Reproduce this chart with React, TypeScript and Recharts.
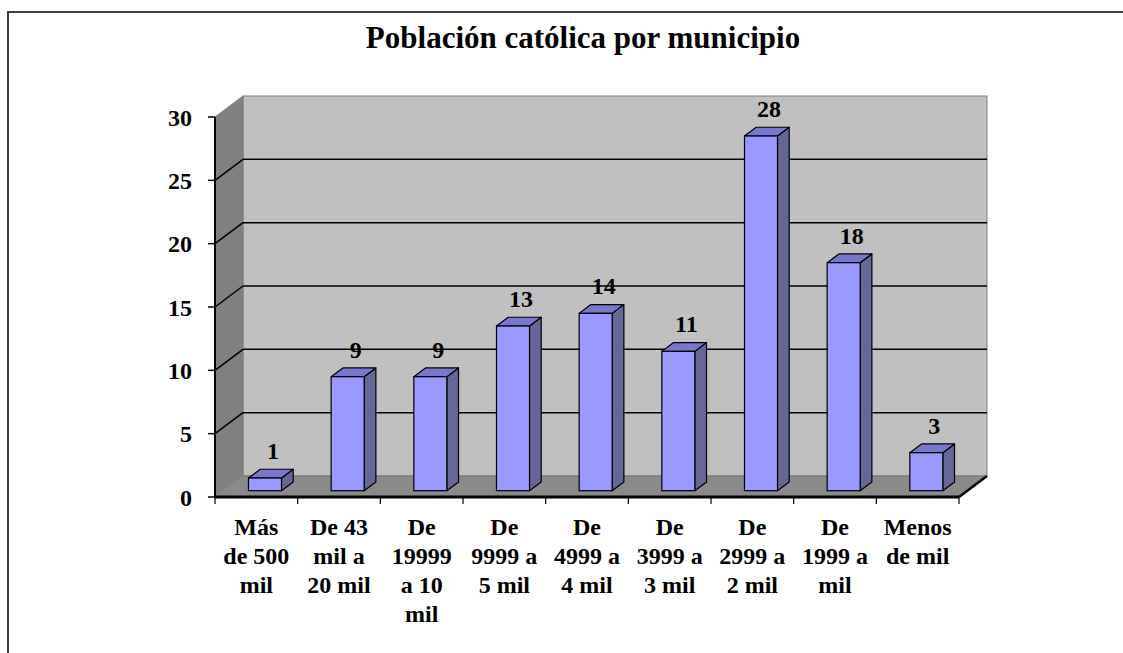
import React from 'react';
import { BarChart, Bar, XAxis, YAxis, ReferenceArea, LabelList } from 'recharts';

const title = 'Población católica por municipio';
const categories = [
  'Más de 500 mil',
  'De 43 mil a 20 mil',
  'De 19999 a 10 mil',
  'De 9999 a 5 mil',
  'De 4999 a 4 mil',
  'De 3999 a 3 mil',
  'De 2999 a 2 mil',
  'De 1999 a mil',
  'Menos de mil',
];
const tickLabelLines = [
  ['Más', 'de 500', 'mil'],
  ['De 43', 'mil a', '20 mil'],
  ['De', '19999', 'a 10', 'mil'],
  ['De', '9999 a', '5 mil'],
  ['De', '4999 a', '4 mil'],
  ['De', '3999 a', '3 mil'],
  ['De', '2999 a', '2 mil'],
  ['De', '1999 a', 'mil'],
  ['Menos', 'de mil'],
];
const values = [1, 9, 9, 13, 14, 11, 28, 18, 3];
const yTicks = [0, 5, 10, 15, 20, 25, 30];
const gridValues = [5, 10, 15, 20, 25];

const data = categories.map((c, i) => ({ name: c, value: values[i] }));

const FONT = 'Liberation Serif';
const textStyle: React.CSSProperties = { fontFamily: FONT, fontWeight: 700 };
// 3D offsets
const WX = 28, WY = -21; // wall depth
const BX = 8.5, BY = -6.3; // bar front offset
const SX = 11.7, SY = -8.8; // bar depth

const WallShape = (p: any) => {
  const { x, y, width, height } = p;
  const bx = x + WX, by = y + WY;
  return (
    <g>
      <rect x={bx} y={by} width={width} height={height} fill="#c0c0c0" stroke="#808080" strokeWidth={1} />
      <polygon points={`${x},${y} ${bx},${by} ${bx},${by + height} ${x},${y + height}`} fill="#808080" stroke="#808080" strokeWidth={1} />
      <polygon points={`${x},${y + height} ${x + width},${y + height} ${bx + width},${by + height} ${bx},${by + height}`} fill="#8a8a8a" stroke="#8a8a8a" strokeWidth={1} />
      <line x1={bx} y1={by + height} x2={bx + width} y2={by + height} stroke="#7a7a7a" strokeWidth={1} />
      <line x1={x + width} y1={y + height} x2={bx + width} y2={by + height} stroke="#000" strokeWidth={2.5} />
    </g>
  );
};

const GridShape = (p: any) => {
  const { x, y, width } = p;
  return (
    <g>
      <line x1={x} y1={y} x2={x + WX} y2={y + WY} stroke="#000" strokeWidth={1.5} />
      <line x1={x + WX} y1={y + WY} x2={x + WX + width} y2={y + WY} stroke="#000" strokeWidth={1.5} />
    </g>
  );
};

const Bar3D = (p: any) => {
  const { x, y, width, height } = p;
  if (x == null || y == null) return null;
  const fx = x + BX, fy = y + BY;
  return (
    <g>
      <polygon points={`${fx + width},${fy} ${fx + width + SX},${fy + SY} ${fx + width + SX},${fy + height + SY} ${fx + width},${fy + height}`} fill="#666699" stroke="#000" strokeWidth={1.2} strokeLinejoin="round" />
      <polygon points={`${fx},${fy} ${fx + SX},${fy + SY} ${fx + width + SX},${fy + SY} ${fx + width},${fy}`} fill="#7777cc" stroke="#000" strokeWidth={1.2} strokeLinejoin="round" />
      <rect x={fx} y={fy} width={width} height={height} fill="#9999ff" stroke="#000" strokeWidth={1.2} />
    </g>
  );
};

const BarLabel = (p: any) => {
  const vb = p.viewBox || {};
  const x = p.x ?? vb.x;
  const y = p.y ?? vb.y;
  const width = p.width ?? vb.width;
  return (
    <text x={x + width / 2 + BX + 8} y={y + BY - 19} textAnchor="middle" style={textStyle} fontSize={24} fill="#000">
      {p.value}
    </text>
  );
};

const YTick = (p: any) => {
  const { x, y, payload } = p;
  return (
    <text x={x} y={y} dy="0.355em" textAnchor="end" style={textStyle} fontSize={24} fill="#000">
      {payload.value}
    </text>
  );
};

const XTick = (p: any) => {
  const { x, y, index, width, visibleTicksCount, payload } = p;
  const n = visibleTicksCount || categories.length;
  const bw = width / n;
  const axisY = y - 7;
  const lines = tickLabelLines[index] || [payload.value];
  return (
    <g>
      <line x1={x - bw / 2} y1={axisY} x2={x - bw / 2} y2={axisY + 7} stroke="#000" strokeWidth={1.2} />
      {index === n - 1 && (
        <line x1={x + bw / 2} y1={axisY} x2={x + bw / 2} y2={axisY + 7} stroke="#000" strokeWidth={1.2} />
      )}
      <text x={x} y={y + 31} textAnchor="middle" style={textStyle} fontSize={24} fill="#000">
        {lines.map((l: string, i: number) => (
          <tspan key={i} x={x} dy={i === 0 ? 0 : 29}>{l}</tspan>
        ))}
      </text>
    </g>
  );
};

export default function App() {
  return (
    <div style={{ position: 'fixed', left: 0, top: 0, width: 1123, height: 653, overflow: 'hidden', background: '#fff' }}>
      <div style={{ position: 'absolute', left: 7, top: 11, width: 1200, height: 700, borderTop: '2px solid #404040', borderLeft: '2px solid #404040' }} />
      <svg width={1123} height={70} style={{ position: 'absolute', left: 0, top: 0 }}>
        <text x={583} y={48} textAnchor="middle" style={textStyle} fontSize={31} fill="#000">{title}</text>
      </svg>
      <div style={{ position: 'absolute', left: 0, top: 0 }}>
        <BarChart width={1123} height={653} data={data} margin={{ top: 117, right: 164, bottom: 26, left: 0 }}>
          <XAxis
            dataKey="name"
            height={130}
            interval={0}
            tickLine={false}
            tickSize={7}
            tickMargin={0}
            axisLine={{ stroke: '#000', strokeWidth: 3 }}
            tick={<XTick />}
          />
          <YAxis
            width={215}
            domain={[0, 30]}
            ticks={yTicks}
            interval={0}
            tickSize={7}
            tickMargin={16}
            tickLine={{ stroke: '#000', strokeWidth: 1.5 }}
            axisLine={{ stroke: '#000', strokeWidth: 2 }}
            tick={<YTick />}
          />
          <ReferenceArea y1={0} y2={30} shape={<WallShape />} />
          {gridValues.map((v) => (
            <ReferenceArea key={v} y1={v - 5} y2={v} shape={<GridShape />} />
          ))}
          <Bar dataKey="value" barSize={33} shape={<Bar3D />} isAnimationActive={false}>
            <LabelList dataKey="value" content={<BarLabel />} />
          </Bar>
        </BarChart>
      </div>
    </div>
  );
}
